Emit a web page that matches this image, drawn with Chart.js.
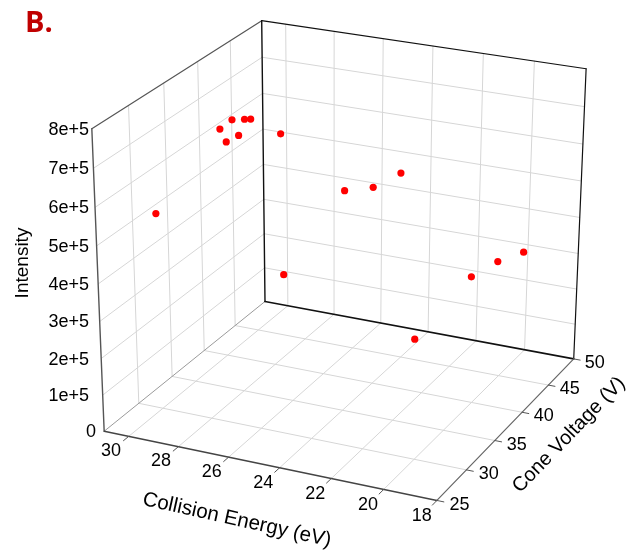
<!DOCTYPE html>
<html>
<head>
<meta charset="utf-8">
<title>Intensity vs collision energy and cone voltage</title>
<script src="https://cdn.jsdelivr.net/npm/chart.js@4.4.0/dist/chart.umd.min.js"></script>
<style>
  body { margin: 0; background: #fff; }
  #wrap { position: relative; width: 629px; height: 558px; }
</style>
</head>
<body>
<div id="wrap"><canvas id="plot3d"></canvas></div>
<script>
// runs: collision energy (eV), cone voltage (V), intensity
var collisionEnergy = [30.05, 30.15, 29.65, 29.14, 28.89, 29.9, 29.39, 30.25, 30.17, 25.14, 24.01, 22.93, 22.3, 21.19, 20.16, 19.16];
var coneVoltage = [30, 40, 40, 40, 40, 40, 40, 50, 50, 40, 40, 40, 40, 45, 45, 45];
var intensity = [5.30e5, 6.29e5, 6.59e5, 6.66e5, 6.69e5, 5.97e5, 6.20e5, 4.95e5, 0.90e5, 5.19e5, 5.41e5, 5.91e5, 1.47e5, 2.64e5, 3.19e5, 3.57e5];

var ceTicks = [30, 28, 26, 24, 22, 20, 18];
var cvTicks = [25, 30, 35, 40, 45, 50];
var intensityTicks = [0, 1e5, 2e5, 3e5, 4e5, 5e5, 6e5, 7e5, 8e5];
var intensityLabels = ['0', '1e+5', '2e+5', '3e+5', '4e+5', '5e+5', '6e+5', '7e+5', '8e+5'];

// box limits
var ceMin = 31, ceMax = 18;
var cvMin = 25, cvMax = 50;
var iMin = 0, iMax = 8e5;

function toU(ce) { return (ce - ceMin) / (ceMax - ceMin); }
function toV(cv) { return (cv - cvMin) / (cvMax - cvMin); }
function toW(v) { return (v - iMin) / (iMax - iMin); }

// where the box corners sit on the page (u, v, w, x, y); the camera is fitted to these
var boxAnchors = [
  [0, 0, 0, 101.7, 433.3],
  [1, 0, 0, 438.3, 503.3],
  [1, 1, 0, 576.7, 360.0],
  [0, 1, 0, 264.5, 301.7],
  [0, 0, 1, 89.3, 126.7],
  [0, 1, 1, 261.0, 17.3],
  [1, 1, 1, 589.3, 66.0]
];
var S = 500; // keeps the fit well scaled

// least squares DLT fit of a 3x4 perspective camera
function fitCamera(pts) {
  var n = 11, M = [], rhs = [];
  for (var i = 0; i < n; i++) { M.push(new Array(n).fill(0)); rhs.push(0); }
  pts.forEach(function (p) {
    var X = p[0], Y = p[1], Z = p[2], x = p[3] / S, y = p[4] / S;
    var rows = [
      [[X, Y, Z, 1, 0, 0, 0, 0, -x * X, -x * Y, -x * Z], x],
      [[0, 0, 0, 0, X, Y, Z, 1, -y * X, -y * Y, -y * Z], y]
    ];
    rows.forEach(function (r) {
      for (var a = 0; a < n; a++) {
        rhs[a] += r[0][a] * r[1];
        for (var b = 0; b < n; b++) M[a][b] += r[0][a] * r[0][b];
      }
    });
  });
  for (var c = 0; c < n; c++) {
    var piv = c;
    for (var r = c + 1; r < n; r++) if (Math.abs(M[r][c]) > Math.abs(M[piv][c])) piv = r;
    var tmp = M[c]; M[c] = M[piv]; M[piv] = tmp;
    var t2 = rhs[c]; rhs[c] = rhs[piv]; rhs[piv] = t2;
    for (r = c + 1; r < n; r++) {
      var f = M[r][c] / M[c][c];
      for (var k = c; k < n; k++) M[r][k] -= f * M[c][k];
      rhs[r] -= f * rhs[c];
    }
  }
  var p = new Array(n).fill(0);
  for (var row = n - 1; row >= 0; row--) {
    var s = rhs[row];
    for (var j = row + 1; j < n; j++) s -= M[row][j] * p[j];
    p[row] = s / M[row][row];
  }
  return p;
}

var cam = fitCamera(boxAnchors);

// unit cube -> page coords
function project(u, v, w) {
  var d = cam[8] * u + cam[9] * v + cam[10] * w + 1;
  return [
    S * (cam[0] * u + cam[1] * v + cam[2] * w + cam[3]) / d,
    S * (cam[4] * u + cam[5] * v + cam[6] * w + cam[7]) / d
  ];
}

var screenPoints = collisionEnergy.map(function (ce, i) {
  var q = project(toU(ce), toV(coneVoltage[i]), toW(intensity[i]));
  return { x: q[0], y: q[1] };
});

var boxPlugin = {
  id: 'box3d',
  beforeDatasetsDraw: function (chart) {
    var ctx = chart.ctx;
    var sx = chart.scales.x, sy = chart.scales.y;
    function pt(u, v, w) {
      var q = project(u, v, w);
      return [sx.getPixelForValue(q[0]), sy.getPixelForValue(q[1])];
    }
    function seg(a, b, color, width) {
      var p = pt(a[0], a[1], a[2]), q = pt(b[0], b[1], b[2]);
      ctx.beginPath();
      ctx.moveTo(p[0], p[1]);
      ctx.lineTo(q[0], q[1]);
      ctx.strokeStyle = color;
      ctx.lineWidth = width;
      ctx.stroke();
    }
    ctx.save();
    ctx.lineCap = 'round';

    // grid on the three walls
    var grid = '#d6d6d6';
    cvTicks.forEach(function (cv) {
      var v = toV(cv);
      if (v > 0 && v < 1) {
        seg([0, v, 0], [0, v, 1], grid, 1);
        seg([0, v, 0], [1, v, 0], grid, 1);
      }
    });
    intensityTicks.forEach(function (val) {
      var w = toW(val);
      if (w > 0 && w < 1) {
        seg([0, 0, w], [0, 1, w], grid, 1);
        seg([0, 1, w], [1, 1, w], grid, 1);
      }
    });
    ceTicks.forEach(function (ce) {
      var u = toU(ce);
      if (u > 0 && u < 1) {
        seg([u, 1, 0], [u, 1, 1], grid, 1);
        seg([u, 0, 0], [u, 1, 0], grid, 1);
      }
    });

    // box edges
    seg([0, 0, 0], [0, 1, 0], '#9a9a9a', 1);
    seg([0, 0, 1], [0, 1, 1], '#555', 1.2);
    seg([0, 1, 0], [0, 1, 1], '#111', 1.4);
    seg([0, 1, 1], [1, 1, 1], '#111', 1.2);
    seg([1, 1, 0], [1, 1, 1], '#111', 1.2);
    seg([0, 1, 0], [1, 1, 0], '#111', 1.6);
    seg([0, 0, 0], [0, 0, 1], '#555', 1.4);
    seg([0, 0, 0], [1, 0, 0], '#444', 1.4);
    seg([1, 0, 0], [1, 1, 0], '#666', 1.2);

    // ticks
    ceTicks.forEach(function (ce) { var u = toU(ce); seg([u, 0, 0], [u, -0.03, 0], '#555', 1); });
    cvTicks.forEach(function (cv) { var v = toV(cv); seg([1, v, 0], [1.02, v, 0], '#555', 1); });

    // tick labels
    ctx.fillStyle = '#000';
    ctx.font = '18px "Liberation Sans", Arial, sans-serif';
    ctx.textAlign = 'center';
    ctx.textBaseline = 'middle';
    ceTicks.forEach(function (ce) {
      var p = pt(toU(ce), -0.1, 0);
      ctx.fillText(String(ce), p[0], p[1]);
    });
    cvTicks.forEach(function (cv) {
      var p = pt(1.065, toV(cv), 0);
      ctx.fillText(String(cv), p[0], p[1]);
    });
    ctx.textAlign = 'right';
    intensityTicks.forEach(function (val, i) {
      var p = pt(0, 0, toW(val));
      ctx.fillText(intensityLabels[i], val === 0 ? 96 : 89, p[1] + 1);
    });

    // axis titles
    ctx.textAlign = 'center';
    ctx.save();
    ctx.translate(23, 263);
    ctx.rotate(-Math.PI / 2);
    ctx.font = '19px "Liberation Sans", Arial, sans-serif';
    ctx.fillText('Intensity', 0, 0);
    ctx.restore();

    ctx.save();
    ctx.translate(237, 520);
    ctx.rotate(12.5 * Math.PI / 180);
    ctx.font = '20.5px "Liberation Sans", Arial, sans-serif';
    ctx.fillText('Collision Energy (eV)', 0, 0);
    ctx.restore();

    ctx.save();
    ctx.translate(569, 435);
    ctx.rotate(-46 * Math.PI / 180);
    ctx.font = '20px "Liberation Sans", Arial, sans-serif';
    ctx.fillText('Cone Voltage (V)', 0, 0);
    ctx.restore();

    // panel letter
    ctx.textAlign = 'left';
    ctx.textBaseline = 'alphabetic';
    ctx.fillStyle = '#c00000';
    ctx.font = 'bold 29px "Open Sans", sans-serif';
    ctx.fillText('B.', 25, 31.5);
    ctx.restore();
  }
};

var chart = new Chart(document.getElementById('plot3d'), {
  type: 'scatter',
  data: {
    datasets: [{
      data: screenPoints,
      backgroundColor: '#ff0000',
      borderWidth: 0,
      pointRadius: 3.6,
      pointHoverRadius: 3.6
    }]
  },
  options: {
    responsive: true,
    maintainAspectRatio: false,
    animation: false,
    layout: { padding: 0 },
    plugins: { legend: { display: false }, tooltip: { enabled: false } },
    scales: {
      x: { type: 'linear', min: 0, max: 629, display: false },
      y: { type: 'linear', min: 0, max: 558, reverse: true, display: false }
    }
  },
  plugins: [boxPlugin]
});
</script>
</body>
</html>
